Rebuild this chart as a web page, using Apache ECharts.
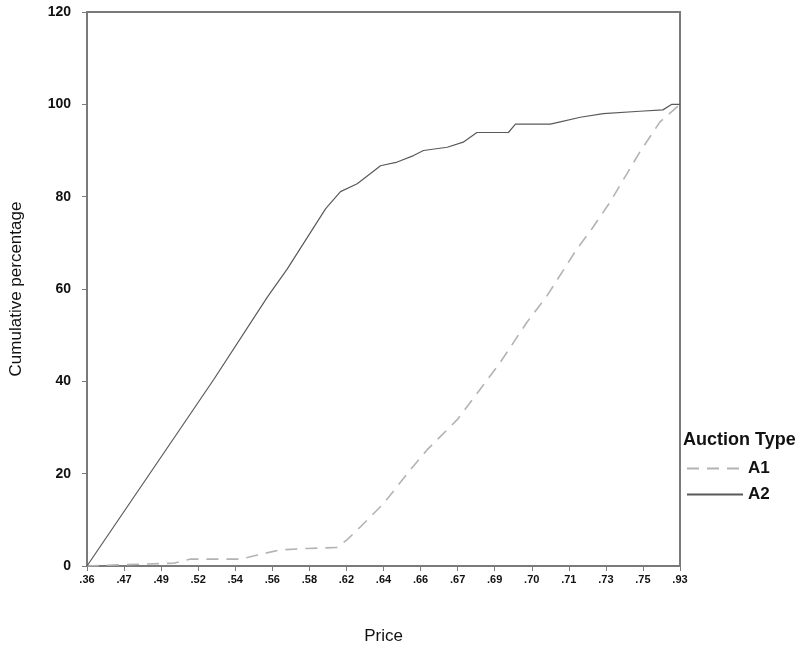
<!DOCTYPE html>
<html>
<head>
<meta charset="utf-8">
<script src="https://cdn.jsdelivr.net/npm/echarts@6/dist/echarts.min.js"></script>
<style>
  html, body { margin: 0; padding: 0; background: #fff; }
  #chart { width: 802px; height: 655px; }
</style>
</head>
<body>
<div id="chart"></div>
<script>
// Price categories shown along the x axis (evenly spaced, one per tick)
const priceLabels = ['.36', '.47', '.49', '.52', '.54', '.56', '.58', '.62', '.64',
                     '.66', '.67', '.69', '.70', '.71', '.73', '.75', '.93'];

// Cumulative percentage curves: [position along the price axis, percent]
const seriesA1 = [
  [0, 0], [1.45, 0.4], [2.34, 0.6], [2.8, 1.5], [4.15, 1.5], [4.6, 2.4],
  [5.23, 3.5], [5.94, 3.8], [6.75, 4.0], [7.02, 5.7], [7.38, 8.5],
  [8.01, 13.6], [8.73, 20.9], [9.18, 25.2], [9.99, 31.7], [10.61, 38.3],
  [11.15, 44.1], [11.87, 52.8], [12.41, 58.5], [13.22, 68.7], [13.62, 73.0],
  [14.11, 78.8], [14.92, 89.7], [15.46, 96.2], [16, 100]
];
const seriesA2 = [
  [0, 0], [3.42, 40.4], [4.87, 58.3], [5.4, 64.3], [6.44, 77.4], [6.84, 81.1],
  [7.29, 82.8], [7.65, 85.0], [7.92, 86.7], [8.37, 87.5], [8.81, 88.9],
  [9.08, 90.0], [9.72, 90.7], [10.15, 91.8], [10.52, 93.9], [11.37, 93.9],
  [11.56, 95.7], [12.5, 95.7], [12.77, 96.2], [13.31, 97.2], [13.93, 98.0],
  [14.92, 98.5], [15.54, 98.8], [15.78, 100], [16, 100]
];
const yTicks = [0, 20, 40, 60, 80, 100, 120];

const FONT = 'Liberation Sans, Arial, sans-serif';
const chart = echarts.init(document.getElementById('chart'));
chart.setOption({
  animation: false,
  backgroundColor: '#fff',
  grid: {
    left: 85, right: 122, top: 12, bottom: 89,
    show: true, borderColor: '#7a7a7a', borderWidth: 2, backgroundColor: 'transparent'
  },
  xAxis: {
    type: 'value', min: 0, max: priceLabels.length - 1, interval: 1,
    name: 'Price', nameLocation: 'middle', nameGap: 62,
    nameTextStyle: { fontFamily: FONT, fontSize: 17, color: '#111' },
    axisLine: { show: true, lineStyle: { color: '#7a7a7a', width: 2 } },
    axisTick: { show: true, length: 5, lineStyle: { color: '#7a7a7a', width: 1 } },
    axisLabel: {
      margin: 8, fontFamily: FONT, fontSize: 11, fontWeight: 'bold', color: '#111',
      formatter: v => priceLabels[Math.round(v)] || ''
    },
    splitLine: { show: false }
  },
  yAxis: {
    type: 'value', min: yTicks[0], max: yTicks[yTicks.length - 1], interval: 20,
    name: 'Cumulative percentage', nameLocation: 'middle', nameGap: 62,
    nameTextStyle: { fontFamily: FONT, fontSize: 17, color: '#111' },
    axisLine: { show: true, lineStyle: { color: '#7a7a7a', width: 2 } },
    axisTick: { show: true, length: 5, lineStyle: { color: '#7a7a7a', width: 1 } },
    axisLabel: { margin: 16, fontFamily: FONT, fontSize: 14, fontWeight: 'bold', color: '#111' },
    splitLine: { show: false }
  },
  legend: {
    orient: 'vertical', left: 681, top: 455, itemWidth: 56, itemHeight: 14, itemGap: 9,
    itemStyle: { opacity: 0 },
    textStyle: { fontFamily: FONT, fontSize: 17, fontWeight: 'bold', color: '#111' },
    data: ['A1', 'A2']
  },
  graphic: [{
    type: 'text', left: 683, top: 431,
    style: { text: 'Auction Type', font: 'bold 18px ' + FONT, fill: '#111' }
  }],
  series: [
    {
      name: 'A1', type: 'line', data: seriesA1, symbol: 'none',
      lineStyle: { color: '#b3b3b3', width: 1.6, type: [12, 8] },
      itemStyle: { color: '#b3b3b3' }
    },
    {
      name: 'A2', type: 'line', data: seriesA2, symbol: 'none',
      lineStyle: { color: '#5a5a5a', width: 1.2 },
      itemStyle: { color: '#5a5a5a' }
    }
  ]
});
</script>
</body>
</html>
